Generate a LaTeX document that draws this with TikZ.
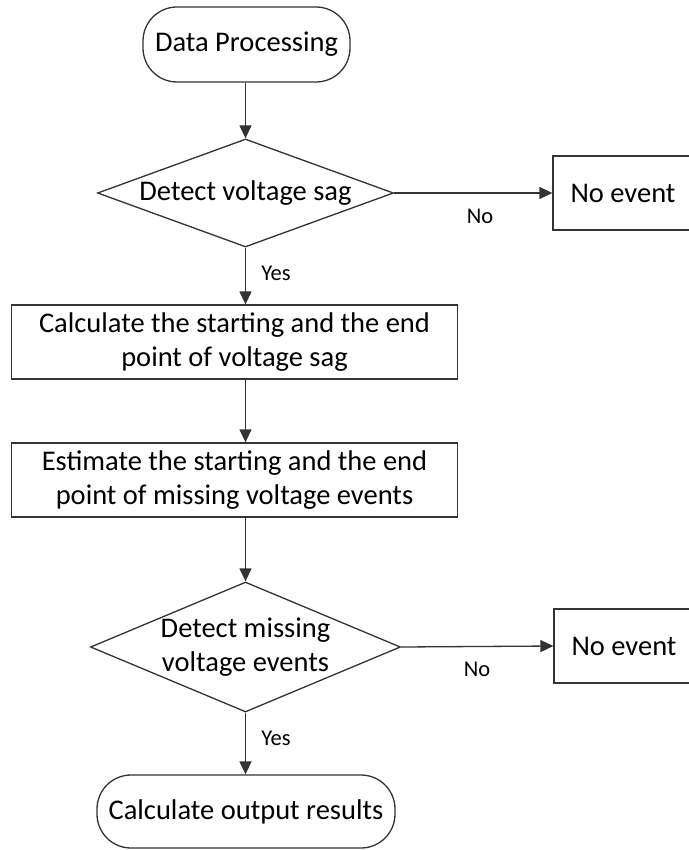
\documentclass[tikz,border=0pt]{standalone}
\usepackage{fontspec}
\setmainfont{Carlito}
\usetikzlibrary{shapes.geometric,arrows.meta}
\begin{document}
\begin{tikzpicture}[x=1pt,y=-1pt,
  every node/.style={font=\fontsize{28.5}{34}\selectfont, text=black, align=center, inner sep=0pt},
  line/.style={draw=black!80, line width=1.3pt},
  pill/.style={line, rectangle, rounded corners=34pt},
  procbox/.style={line, rectangle},
  decide/.style={line, diamond},
  lbl/.style={font=\fontsize{22.5}{26}\selectfont},
  arr/.style={draw=black!80, line width=1.3pt, -{Triangle[length=13pt,width=12pt]}}
]
\useasboundingbox (0,0) rectangle (688,850);
\node[pill, minimum width=207pt, minimum height=75pt] (dp) at (246.5,44.5) {Data Processing};
\node[decide, shape aspect=2.74, minimum width=296pt, minimum height=108pt] (d1) at (245.5,193) {Detect voltage sag};
\node[procbox, minimum width=140pt, minimum height=74pt] (ne1) at (623,193) {No event};
\node[procbox, minimum width=446pt, minimum height=74pt] (b1) at (234.5,342) {Calculate the starting and the end\\point of voltage sag};
\node[procbox, minimum width=446pt, minimum height=74pt] (b2) at (234.5,480) {Estimate the starting and the end\\point of missing voltage events};
\node[decide, shape aspect=2.4, minimum width=310pt, minimum height=130pt] (d2) at (245.5,647) {Detect missing\\voltage events};
\node[procbox, minimum width=140pt, minimum height=74pt] (ne2) at (624,646) {No event};
\node[pill, minimum width=298pt, minimum height=73pt] (cr) at (246,811.5) {Calculate output results};
\node[lbl] (no1) at (480,216) {No};
\node[lbl] (no2) at (477,669) {No};
\node[lbl] (yes1) at (276,273) {Yes};
\node[lbl] (yes2) at (276,738) {Yes};
\draw[arr] (dp.south -| d1.north) -- (d1.north);
\draw[arr] (d1.east) -- (ne1.west);
\draw[arr] (d1.south) -- (d1.south |- b1.north);
\draw[arr] (d1.south |- b1.south) -- (d1.south |- b2.north);
\draw[arr] (d1.south |- b2.south) -- (d2.north);
\draw[arr] (d2.east) -- (ne2.west);
\draw[arr] (d2.south) -- (d2.south |- cr.north);
\end{tikzpicture}
\end{document}
